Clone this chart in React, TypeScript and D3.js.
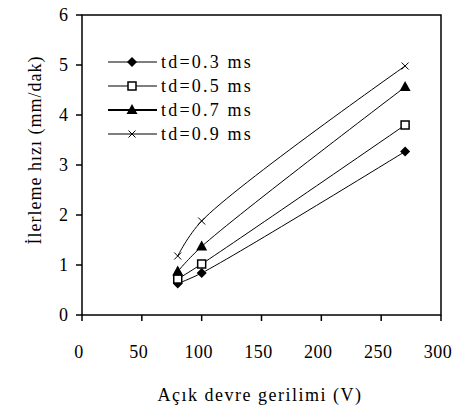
import React from 'react'
import * as d3 from 'd3'

// gerilim (V)
const voltages = [80, 100, 270]
// ilerleme hızı (mm/dak) for each pulse duration
const td03 = [0.63, 0.84, 3.27]
const td05 = [0.72, 1.02, 3.8]
const td07 = [0.87, 1.37, 4.56]
const td09 = [1.18, 1.88, 4.98]
const seriesNames = ['td=0.3 ms', 'td=0.5 ms', 'td=0.7 ms', 'td=0.9 ms']
const markerTypes = ['diamond', 'square', 'triangle', 'cross']
const xTicks = [0, 50, 100, 150, 200, 250, 300]
const yTicks = [0, 1, 2, 3, 4, 5, 6]

const W = 454
const H = 411
const font = '"Liberation Serif", "Times New Roman", serif'

function Marker({ type, x, y }: { type: string; x: number; y: number }) {
  if (type === 'diamond') {
    return <path d={`M${x},${y - 5}L${x + 5},${y}L${x},${y + 5}L${x - 5},${y}Z`} fill="#000" />
  }
  if (type === 'square') {
    return <rect x={x - 4} y={y - 4} width={8} height={8} fill="#fff" stroke="#000" strokeWidth={1.5} />
  }
  if (type === 'triangle') {
    return <path d={`M${x},${y - 6}L${x + 5.5},${y + 4}L${x - 5.5},${y + 4}Z`} fill="#000" />
  }
  return (
    <path d={`M${x - 3.5},${y - 3.5}L${x + 3.5},${y + 3.5}M${x + 3.5},${y - 3.5}L${x - 3.5},${y + 3.5}`}
      stroke="#000" strokeWidth={1} />
  )
}

export default function App() {
  const x = d3.scaleLinear().domain([0, 300]).range([82, 441])
  const y = d3.scaleLinear().domain([0, 6]).range([315, 15])
  const series = [td03, td05, td07, td09]

  const line = d3.line<[number, number]>()
    .x(d => x(d[0]))
    .y(d => y(d[1]))
    .curve(d3.curveCatmullRom.alpha(0.5))

  const legendY = [62, 86, 110, 134]

  return (
    <svg width={W} height={H} style={{ position: 'absolute', left: 0, top: 0, background: '#fff' }}
      fontFamily={font}>
      <rect width={W} height={H} fill="#fff" />

      {/* plot frame */}
      <rect x={x(0)} y={y(6)} width={x(300) - x(0)} height={y(0) - y(6)} fill="none" stroke="#000" strokeWidth={1.5} />

      {/* y axis */}
      {yTicks.map(t => (
        <g key={'y' + t}>
          <line x1={x(0) - 6} x2={x(0)} y1={y(t)} y2={y(t)} stroke="#000" strokeWidth={1.5} />
          <text x={x(0) - 14} y={y(t)} dy="0.35em" textAnchor="end" fontSize={18}>{t}</text>
        </g>
      ))}

      {/* x axis */}
      {xTicks.map(t => (
        <g key={'x' + t}>
          <line x1={x(t)} x2={x(t)} y1={y(0)} y2={y(0) + 6} stroke="#000" strokeWidth={1.5} />
          <text x={x(t) - 3} y={352} dy="0.35em" textAnchor="middle" fontSize={18} letterSpacing={0.5}>{t}</text>
        </g>
      ))}

      <text x={260} y={395} dy="0.35em" textAnchor="middle" fontSize={18} letterSpacing={1.5}>Açık devre gerilimi (V)</text>
      <text transform={`translate(35,150) rotate(-90)`} dy="0.35em" textAnchor="middle" fontSize={18} letterSpacing={1}>
        İlerleme hızı (mm/dak)
      </text>

      {/* series */}
      {series.map((vals, i) => {
        const pts = voltages.map((v, j) => [v, vals[j]] as [number, number])
        return (
          <g key={'s' + i}>
            <path d={line(pts) || ''} fill="none" stroke="#000" strokeWidth={1} />
            {pts.map((p, j) => (
              <Marker key={j} type={markerTypes[i]} x={x(p[0])} y={y(p[1])} />
            ))}
          </g>
        )
      })}

      {/* legend */}
      {seriesNames.map((name, i) => (
        <g key={'l' + i}>
          <line x1={108} x2={157} y1={legendY[i]} y2={legendY[i]} stroke="#000" strokeWidth={i === 2 ? 2 : 1.2} />
          <Marker type={markerTypes[i]} x={132} y={legendY[i]} />
          <text x={161} y={legendY[i]} dy="0.35em" fontSize={18} letterSpacing={2.2}>{name}</text>
        </g>
      ))}
    </svg>
  )
}
